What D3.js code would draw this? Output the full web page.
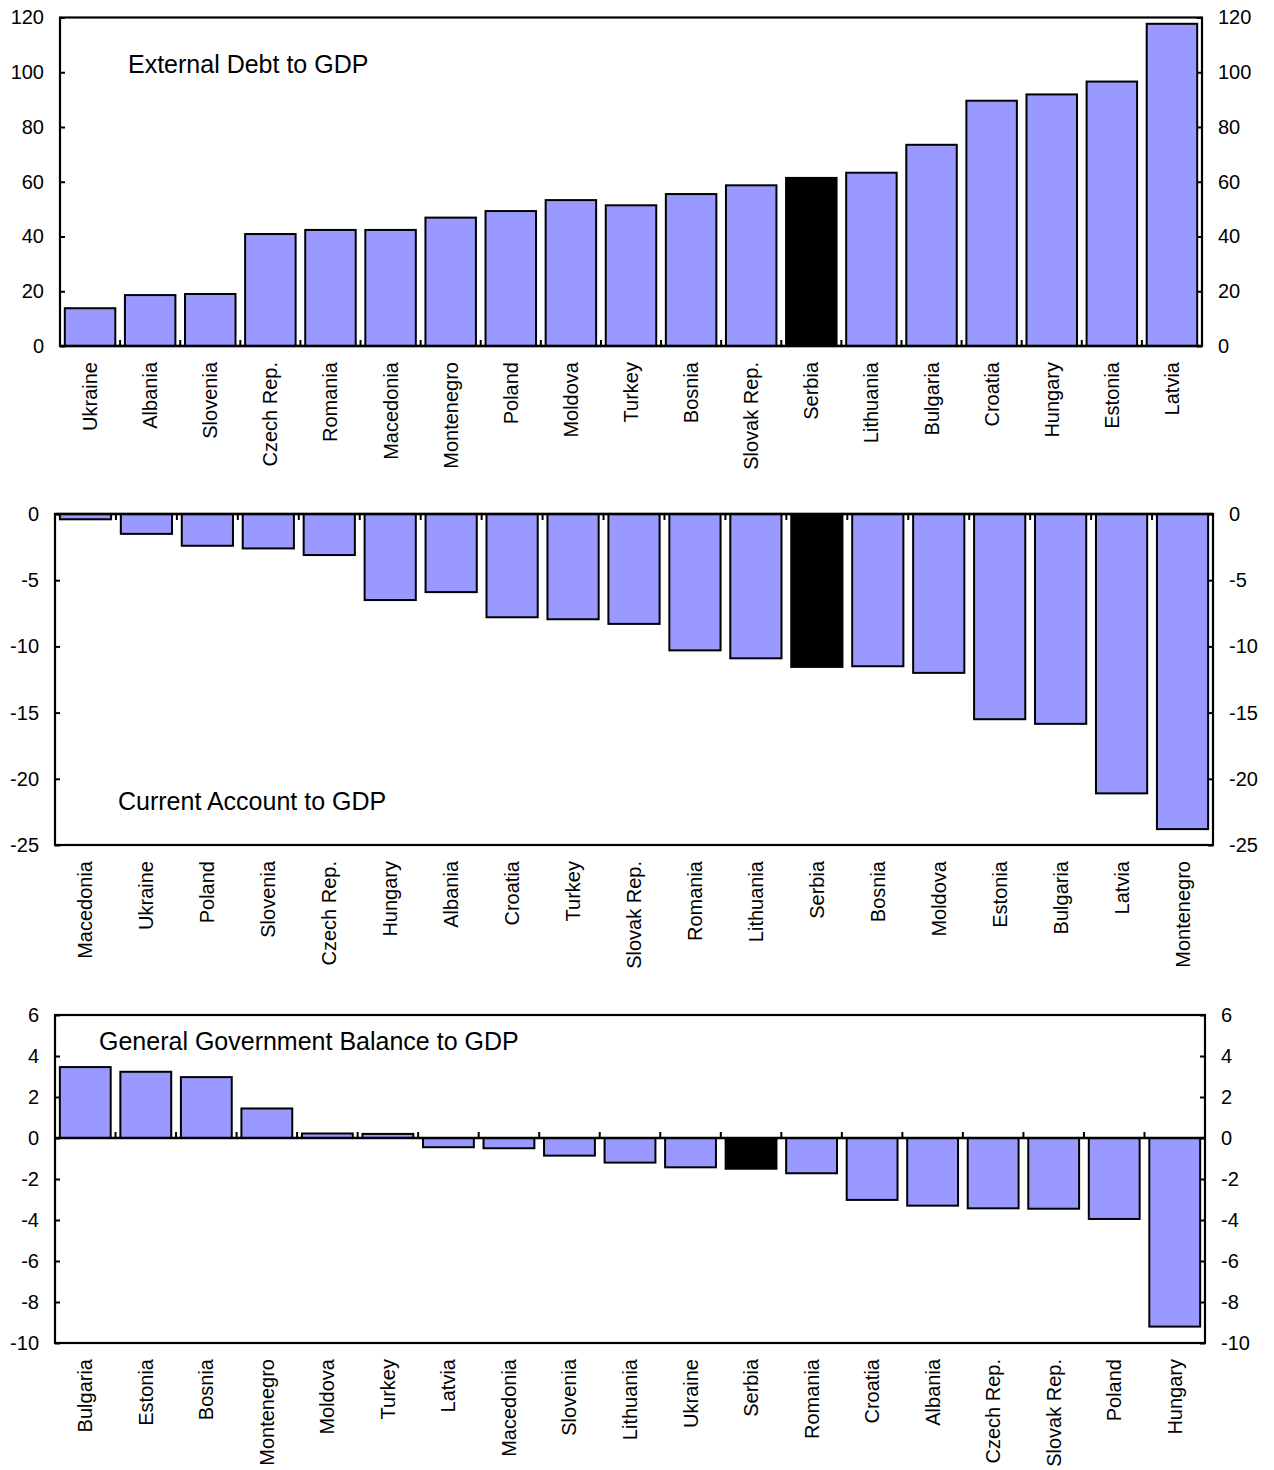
<!DOCTYPE html>
<html>
<head>
<meta charset="utf-8">
<script src="https://cdn.jsdelivr.net/npm/d3@7"></script>
<style>
  html, body { margin: 0; padding: 0; background: #fff; }
  svg text { font-family: "Liberation Sans", Arial, sans-serif; fill: #000; }
</style>
</head>
<body>
<svg id="chart" width="1274" height="1470"></svg>
<script>
// ---- Data ----
const debtCountries = ["Ukraine","Albania","Slovenia","Czech Rep.","Romania","Macedonia","Montenegro","Poland","Moldova","Turkey","Bosnia","Slovak Rep.","Serbia","Lithuania","Bulgaria","Croatia","Hungary","Estonia","Latvia"];
const debtValues = [13.8, 18.6, 19.0, 40.9, 42.4, 42.4, 46.9, 49.3, 53.3, 51.4, 55.5, 58.7, 61.4, 63.3, 73.5, 89.6, 91.9, 96.6, 117.7];
const debtTicks = [0, 20, 40, 60, 80, 100, 120];

const caCountries = ["Macedonia","Ukraine","Poland","Slovenia","Czech Rep.","Hungary","Albania","Croatia","Turkey","Slovak Rep.","Romania","Lithuania","Serbia","Bosnia","Moldova","Estonia","Bulgaria","Latvia","Montenegro"];
const caValues = [-0.4, -1.5, -2.4, -2.6, -3.1, -6.5, -5.9, -7.8, -7.95, -8.3, -10.3, -10.9, -11.55, -11.5, -12.0, -15.5, -15.85, -21.1, -23.8];
const caTicks = [0, -5, -10, -15, -20, -25];

const ggbCountries = ["Bulgaria","Estonia","Bosnia","Montenegro","Moldova","Turkey","Latvia","Macedonia","Slovenia","Lithuania","Ukraine","Serbia","Romania","Croatia","Albania","Czech Rep.","Slovak Rep.","Poland","Hungary"];
const ggbValues = [3.46, 3.23, 2.97, 1.44, 0.22, 0.2, -0.45, -0.5, -0.86, -1.2, -1.43, -1.5, -1.72, -3.02, -3.3, -3.43, -3.45, -3.95, -9.2];
const ggbTicks = [6, 4, 2, 0, -2, -4, -6, -8, -10];

const highlight = "Serbia";
const titles = ["External Debt to GDP", "Current Account to GDP", "General Government Balance to GDP"];

// ---- Layout ----
const panels = [
  { cats: debtCountries, vals: debtValues, ticks: debtTicks, domain: [0, 120], title: titles[0],
    left: 60, right: 1202, top: 17.5, bottom: 346, titleX: 128, titleY: 73, xTickDir: -1 },
  { cats: caCountries, vals: caValues, ticks: caTicks, domain: [-25, 0], title: titles[1],
    left: 55, right: 1213, top: 514, bottom: 845, titleX: 118, titleY: 810, xTickDir: 1 },
  { cats: ggbCountries, vals: ggbValues, ticks: ggbTicks, domain: [-10, 6], title: titles[2],
    left: 55, right: 1205, top: 1015, bottom: 1343, titleX: 99, titleY: 1050, xTickDir: -1 }
];

const svg = d3.select("#chart");
const barFill = "#9999ff";

panels.forEach(p => {
  const g = svg.append("g");
  const x = d3.scaleBand().domain(p.cats).range([p.left, p.right]).paddingInner(0.16).paddingOuter(0.08);
  const y = d3.scaleLinear().domain(p.domain).range([p.bottom, p.top]);
  const y0 = y(0);

  // bars
  g.selectAll("rect.bar").data(p.cats.map((c, i) => ({ c, v: p.vals[i] })))
    .enter().append("rect")
    .attr("class", "bar")
    .attr("x", d => x(d.c))
    .attr("width", x.bandwidth())
    .attr("y", d => Math.min(y(d.v), y0))
    .attr("height", d => Math.abs(y(d.v) - y0))
    .attr("fill", d => d.c === highlight ? "#000" : barFill)
    .attr("stroke", "#000")
    .attr("stroke-width", 2);

  // frame
  g.append("rect")
    .attr("x", p.left).attr("y", p.top)
    .attr("width", p.right - p.left).attr("height", p.bottom - p.top)
    .attr("fill", "none").attr("stroke", "#000").attr("stroke-width", 2.2);

  // zero line
  g.append("line")
    .attr("x1", p.left).attr("x2", p.right)
    .attr("y1", y0).attr("y2", y0)
    .attr("stroke", "#000").attr("stroke-width", 2.5);

  // category tick marks at band boundaries
  const step = x.step();
  const bounds = d3.range(1, p.cats.length).map(i => x(p.cats[i]) - (step - x.bandwidth()) / 2);
  g.selectAll("line.xt").data(bounds).enter().append("line")
    .attr("x1", d => d).attr("x2", d => d)
    .attr("y1", y0).attr("y2", y0 + p.xTickDir * 6)
    .attr("stroke", "#000").attr("stroke-width", 2);

  // left axis
  const leftAxis = d3.axisLeft(y).tickValues(p.ticks).tickSize(-5).tickPadding(16).tickFormat(d3.format("d"));
  const la = g.append("g").attr("transform", `translate(${p.left},0)`).call(leftAxis);
  // right axis
  const rightAxis = d3.axisRight(y).tickValues(p.ticks).tickSize(-5).tickPadding(16).tickFormat(d3.format("d"));
  const ra = g.append("g").attr("transform", `translate(${p.right},0)`).call(rightAxis);
  [la, ra].forEach(a => {
    a.select(".domain").remove();
    a.selectAll(".tick line").attr("stroke", "#000").attr("stroke-width", 2);
    a.selectAll(".tick text").attr("font-size", 20).attr("fill", "#000")
      .style("font-family", "'Liberation Sans', Arial, sans-serif")
      .text(d => d < 0 ? "-" + Math.abs(d) : String(d));
  });

  // category labels
  g.selectAll("text.cat").data(p.cats).enter().append("text")
    .attr("class", "cat")
    .attr("transform", d => `translate(${x(d) + x.bandwidth() / 2},${p.bottom + 16}) rotate(-90)`)
    .attr("text-anchor", "end")
    .attr("dy", "0.35em")
    .attr("font-size", 20)
    .text(d => d);

  // title
  g.append("text")
    .attr("x", p.titleX).attr("y", p.titleY)
    .attr("font-size", 25)
    .text(p.title);
});
</script>
</body>
</html>
